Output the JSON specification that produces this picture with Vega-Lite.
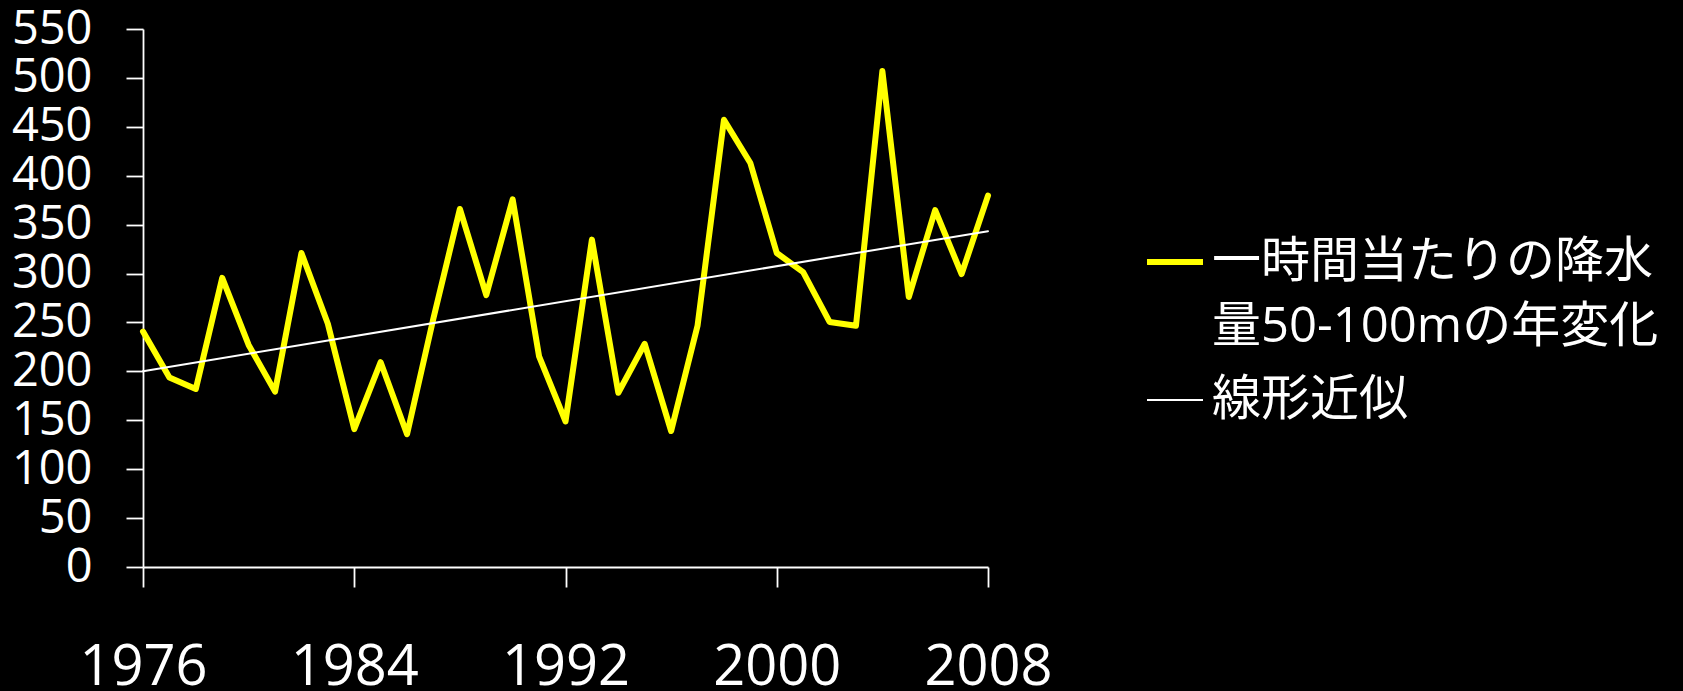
{
  "$schema": "https://vega.github.io/schema/vega-lite/v6.json",
  "width": 845,
  "height": 538,
  "autosize": "none",
  "padding": {"left": 143, "top": 29, "right": 695, "bottom": 124},
  "background": "#000000",
  "config": {
    "view": {"stroke": null},
    "font": "Open Sans, Noto Sans CJK JP",
    "style": {"guide-label": {"lineHeight": 65}}
  },
  "data": {
    "values": [
      {"year": 1976, "value": 240.7, "series": "一時間当たりの降水量50-100mの年変化"},
      {"year": 1977, "value": 193.8, "series": "一時間当たりの降水量50-100mの年変化"},
      {"year": 1978, "value": 182, "series": "一時間当たりの降水量50-100mの年変化"},
      {"year": 1979, "value": 295.6, "series": "一時間当たりの降水量50-100mの年変化"},
      {"year": 1980, "value": 227, "series": "一時間当たりの降水量50-100mの年変化"},
      {"year": 1981, "value": 179.3, "series": "一時間当たりの降水量50-100mの年変化"},
      {"year": 1982, "value": 321, "series": "一時間当たりの降水量50-100mの年変化"},
      {"year": 1983, "value": 248.6, "series": "一時間当たりの降水量50-100mの年変化"},
      {"year": 1984, "value": 141, "series": "一時間当たりの降水量50-100mの年変化"},
      {"year": 1985, "value": 209.4, "series": "一時間当たりの降水量50-100mの年変化"},
      {"year": 1986, "value": 135.8, "series": "一時間当たりの降水量50-100mの年変化"},
      {"year": 1987, "value": 254.5, "series": "一時間当たりの降水量50-100mの年変化"},
      {"year": 1988, "value": 366, "series": "一時間当たりの降水量50-100mの年変化"},
      {"year": 1989, "value": 278, "series": "一時間当たりの降水量50-100mの年変化"},
      {"year": 1990, "value": 375.8, "series": "一時間当たりの降水量50-100mの年変化"},
      {"year": 1991, "value": 215.3, "series": "一時間当たりの降水量50-100mの年変化"},
      {"year": 1992, "value": 148.8, "series": "一時間当たりの降水量50-100mの年変化"},
      {"year": 1993, "value": 334.7, "series": "一時間当たりの降水量50-100mの年変化"},
      {"year": 1994, "value": 178.1, "series": "一時間当たりの降水量50-100mの年変化"},
      {"year": 1995, "value": 228.2, "series": "一時間当たりの降水量50-100mの年変化"},
      {"year": 1996, "value": 139, "series": "一時間当たりの降水量50-100mの年変化"},
      {"year": 1997, "value": 246.6, "series": "一時間当たりの降水量50-100mの年変化"},
      {"year": 1998, "value": 457.2, "series": "一時間当たりの降水量50-100mの年変化"},
      {"year": 1999, "value": 413, "series": "一時間当たりの降水量50-100mの年変化"},
      {"year": 2000, "value": 321, "series": "一時間当たりの降水量50-100mの年変化"},
      {"year": 2001, "value": 301.4, "series": "一時間当たりの降水量50-100mの年変化"},
      {"year": 2002, "value": 250.5, "series": "一時間当たりの降水量50-100mの年変化"},
      {"year": 2003, "value": 246.6, "series": "一時間当たりの降水量50-100mの年変化"},
      {"year": 2004, "value": 507, "series": "一時間当たりの降水量50-100mの年変化"},
      {"year": 2005, "value": 276, "series": "一時間当たりの降水量50-100mの年変化"},
      {"year": 2006, "value": 364.8, "series": "一時間当たりの降水量50-100mの年変化"},
      {"year": 2007, "value": 299.5, "series": "一時間当たりの降水量50-100mの年変化"},
      {"year": 2008, "value": 379.7, "series": "一時間当たりの降水量50-100mの年変化"},
      {"year": 1976, "value": 200.2, "series": "線形近似"},
      {"year": 2008, "value": 343.3, "series": "線形近似"}
    ]
  },
  "mark": {"type": "line", "strokeCap": "round", "strokeJoin": "round"},
  "encoding": {
    "x": {
      "field": "year", "type": "quantitative",
      "scale": {"domain": [1976, 2008], "nice": false, "zero": false},
      "axis": {
        "title": null, "values": [1976, 1984, 1992, 2000, 2008], "format": "d",
        "grid": false, "domainColor": "#ffffff", "domainWidth": 1.8,
        "tickColor": "#ffffff", "tickWidth": 1.8, "tickSize": 20,
        "labelColor": "#ffffff", "labelFontSize": 56, "labelPadding": 53,
        "labelFont": "Open Sans", "labelFlush": false, "labelOverlap": false
      }
    },
    "y": {
      "field": "value", "type": "quantitative",
      "scale": {"domain": [0, 550], "nice": false},
      "axis": {
        "title": null, "values": [0, 50, 100, 150, 200, 250, 300, 350, 400, 450, 500, 550],
        "grid": false, "domainColor": "#ffffff", "domainWidth": 1.8,
        "tickColor": "#ffffff", "tickWidth": 1.8, "tickSize": 17,
        "labelColor": "#ffffff", "labelFontSize": 47, "labelPadding": 34,
        "labelFont": "Open Sans", "labelOverlap": false
      }
    },
    "color": {
      "field": "series", "type": "nominal",
      "scale": {"domain": ["一時間当たりの降水量50-100mの年変化", "線形近似"], "range": ["#ffff00", "#ffffff"]},
      "legend": {
        "title": null, "orient": "none", "legendX": 1001, "legendY": 202,
        "symbolType": "stroke", "symbolSize": 3136,
        "labelColor": "#ffffff", "labelFontSize": 49, "labelFont": "Open Sans, Noto Sans CJK JP",
        "labelOffset": 6, "labelLimit": 600, "rowPadding": 19,
        "labelExpr": "datum.label == '線形近似' ? datum.label : ['一時間当たりの降水', '量50-100mの年変化']"
      }
    },
    "strokeWidth": {
      "field": "series", "type": "nominal",
      "scale": {"domain": ["一時間当たりの降水量50-100mの年変化", "線形近似"], "range": [6, 2]},
      "legend": {
        "title": null, "orient": "none", "legendX": 1001, "legendY": 202,
        "symbolType": "stroke", "symbolSize": 3136,
        "labelColor": "#ffffff", "labelFontSize": 49, "labelFont": "Open Sans, Noto Sans CJK JP",
        "labelOffset": 6, "labelLimit": 600, "rowPadding": 19,
        "labelExpr": "datum.label == '線形近似' ? datum.label : ['一時間当たりの降水', '量50-100mの年変化']"
      }
    }
  }
}
